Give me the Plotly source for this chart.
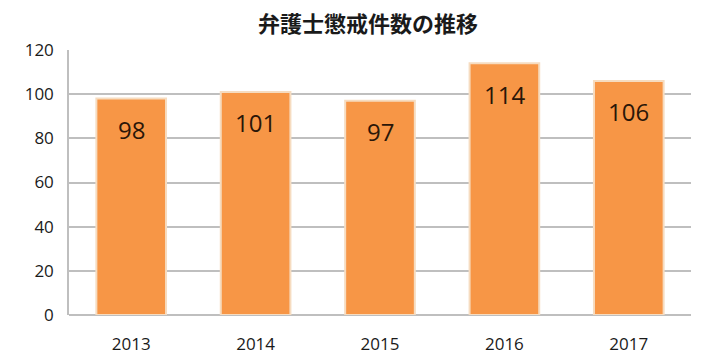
import plotly.graph_objects as go

years = ["2013", "2014", "2015", "2016", "2017"]
counts = [98, 101, 97, 114, 106]
y_ticks = [0, 20, 40, 60, 80, 100, 120]
title_text = "弁護士懲戒件数の推移"

fig = go.Figure()
fig.add_trace(go.Bar(
    x=years, y=counts,
    marker=dict(color="#f79646", line=dict(color="#f6dcc0", width=2)),
    hoverinfo="skip",
))
# category axis: annotation x given as category index
for i, v in enumerate(counts):
    fig.add_annotation(x=i, y=v, text=str(v), showarrow=False, yshift=-31,
                       font=dict(family="Open Sans, sans-serif", size=24, color="#2a1608"))

fig.update_layout(
    width=720, height=360,
    margin=dict(l=61, r=37, t=42, b=53),
    paper_bgcolor="white", plot_bgcolor="white",
    bargap=0.44,
    showlegend=False,
    title=dict(text="<b>" + title_text + "</b>", x=0.5, xanchor="center", y=0.955, yanchor="middle",
               font=dict(family="Noto Sans CJK JP", size=22, color="#1a1a1a")),
)
fig.update_xaxes(type="category", showgrid=False, showline=False,
                 ticks="outside", ticklen=14, tickcolor="rgba(0,0,0,0)",
                 tickfont=dict(family="Open Sans, sans-serif", size=17, color="#1a1a1a"))
fig.update_yaxes(range=[0, 120], tickvals=y_ticks, showgrid=True, gridcolor="#bfbfbf", gridwidth=1.5,
                 showline=True, linecolor="#bfbfbf", linewidth=1.5, zeroline=True, zerolinecolor="#bfbfbf",
                 ticks="outside", ticklen=10, tickcolor="rgba(0,0,0,0)",
                 tickfont=dict(family="Open Sans, sans-serif", size=17, color="#1a1a1a"))

fig.write_html("out.html")
